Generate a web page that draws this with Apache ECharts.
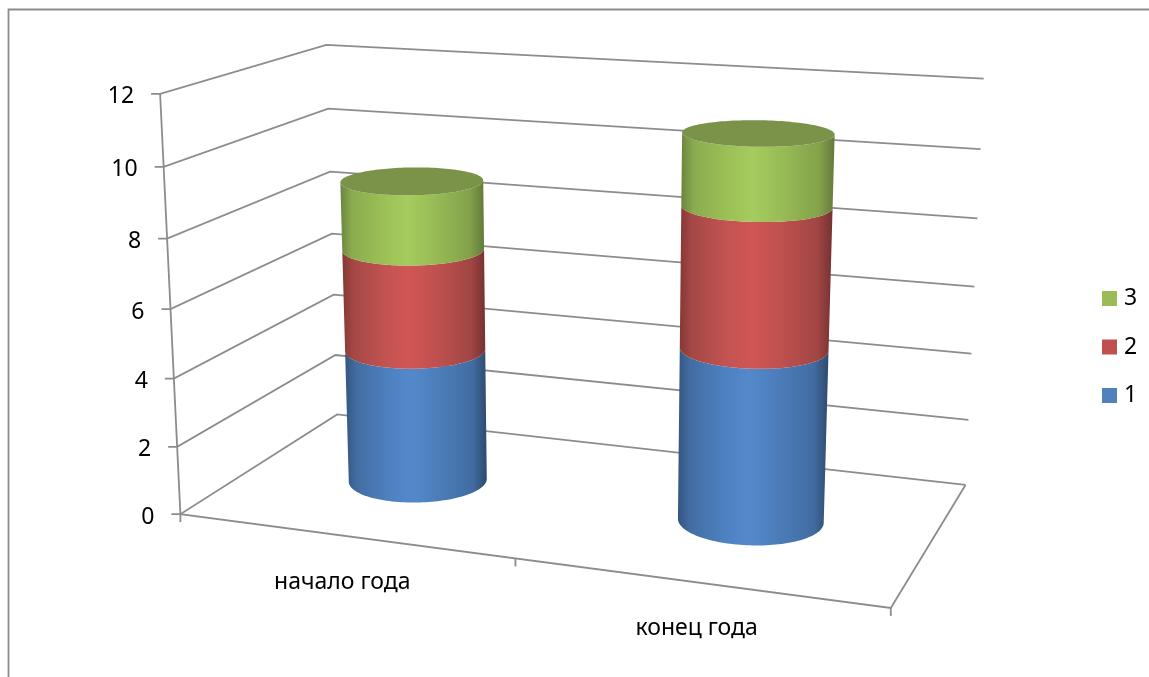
<!DOCTYPE html>
<html><head><meta charset="utf-8">
<style>html,body{margin:0;padding:0;background:#fff}#c{width:1149px;height:677px}</style>
<script src="https://cdn.jsdelivr.net/npm/echarts@6/dist/echarts.min.js"></script>
</head><body><div id="c"></div>
<script>
// ---- data ----
const categories = ['начало года', 'конец года'];
const yTicks = [0, 2, 4, 6, 8, 10, 12];
const series1 = [4, 5];
const series2 = [3, 4];
const series3 = [2, 2];
const seriesNames = ['1', '2', '3'];
// ---- style ----
const FONT = '"Noto Sans"', FS = 23;
const LINE = '#8c8c8c';
const flat = ['#4F81BD', '#C0504D', '#9BBB59'];
const shades = [
  ['#34557f', '#436da2', '#4d80bf', '#5389cb', '#4b7cb8', '#416ca2', '#2e4a6d'],
  ['#853836', '#a54846', '#c25351', '#d05653', '#bd504e', '#a14644', '#753231'],
  ['#6c843f', '#8aab4e', '#9cc056', '#a5cc5e', '#96b955', '#83a14a', '#647a3a']
];
const TOP_FILL = '#7a9349';
const R_U = 0.1, R_W = 0.2, MID_W = 0.5;
// projection calibration: normalised wall position (u, v, w) -> page position
const wallAnchors = [
  [0,1,0,160,94],[0,10/12,0,163.5,166],[0,8/12,0,167,238],[0,.5,0,170.5,309],[0,4/12,0,174,378],[0,2/12,0,177.5,447],[0,0,0,181,516],
  [0,1,1,327,45],[0,10/12,1,328,109],[0,8/12,1,330,172],[0,.5,1,332,234],[0,4/12,1,333,295],[0,2/12,1,335,355],[0,0,1,337,413],
  [1,1,1,983,78],[1,10/12,1,980,149],[1,8/12,1,978,219],[1,.5,1,975,287],[1,4/12,1,972,354],[1,2/12,1,969,420],[1,0,1,965,484],
  [1,0,0,890,608]
];
function solve(A, b) {
  const n = b.length;
  for (let i = 0; i < n; i++) {
    let p = i;
    for (let r = i + 1; r < n; r++) if (Math.abs(A[r][i]) > Math.abs(A[p][i])) p = r;
    [A[i], A[p]] = [A[p], A[i]]; [b[i], b[p]] = [b[p], b[i]];
    for (let r = i + 1; r < n; r++) {
      const f = A[r][i] / A[i][i];
      for (let c = i; c < n; c++) A[r][c] -= f * A[i][c];
      b[r] -= f * b[i];
    }
  }
  const x = new Array(n);
  for (let i = n - 1; i >= 0; i--) {
    let s = b[i];
    for (let c = i + 1; c < n; c++) s -= A[i][c] * x[c];
    x[i] = s / A[i][i];
  }
  return x;
}
const P = (function () {
  const rows = [], rhs = [];
  wallAnchors.forEach(([u, v, w, X, Y]) => {
    const x = X / 1000, y = Y / 1000;
    rows.push([u, v, w, 1, 0, 0, 0, 0, -x * u, -x * v, -x * w]); rhs.push(x);
    rows.push([0, 0, 0, 0, u, v, w, 1, -y * u, -y * v, -y * w]); rhs.push(y);
  });
  const N = 11, A = [], b = [];
  for (let i = 0; i < N; i++) {
    A.push(new Array(N).fill(0)); b.push(0);
    rows.forEach((r, k) => {
      for (let j = 0; j < N; j++) A[i][j] += r[i] * r[j];
      b[i] += r[i] * rhs[k];
    });
  }
  return solve(A, b);
})();
function project(u, v, w) {
  const d = P[8] * u + P[9] * v + P[10] * w + 1;
  return [1000 * (P[0] * u + P[1] * v + P[2] * w + P[3]) / d,
          1000 * (P[4] * u + P[5] * v + P[6] * w + P[7]) / d];
}
// from the hidden cartesian scales to normalised wall coordinates
function toWall(params, api, cat, val) {
  const c = api.coord([cat, val]), g = params.coordSys;
  return [(c[0] - g.x) / g.width, (g.y + g.height - c[1]) / g.height];
}
function ring(uc, v) {
  const pts = [];
  for (let i = 0; i < 144; i++) {
    const t = 2 * Math.PI * i / 144;
    pts.push(project(uc + R_U * Math.cos(t), v, MID_W + R_W * Math.sin(t)));
  }
  return pts;
}
// the part of a ring facing the viewer, running from its leftmost to its rightmost point
function frontArc(uc, v) {
  const pts = ring(uc, v);
  let l = 0, r = 0;
  pts.forEach((p, i) => { if (p[0] < pts[l][0]) l = i; if (p[0] > pts[r][0]) r = i; });
  const out = [];
  for (let i = l; ; i = (i + 1) % pts.length) {
    out.push(pts[i]);
    if (i === r) break;
  }
  return out;
}
function cylinderRenderer(idx) {
  return function (params, api) {
    const cat = api.value(0), start = api.value(1), end = api.value(2);
    const [uc, v0] = toWall(params, api, cat, start);
    const v1 = toWall(params, api, cat, end)[1];
    const low = frontArc(uc, v0);
    const high = frontArc(uc, v1).reverse();
    const stops = shades[idx].map((color, i) => ({offset: [0, .08, .3, .47, .68, .9, 1][i], color}));
    const children = [{
      type: 'polygon', shape: {points: low.concat(high)},
      style: {fill: new echarts.graphic.LinearGradient(0, 0, 1, 0, stops)}
    }];
    if (idx === 2) {
      children.push({
        type: 'polygon', shape: {points: ring(uc, v1)},
        style: {fill: TOP_FILL}
      });
    }
    return {type: 'group', children};
  };
}
const lineStyle = {stroke: LINE, lineWidth: 1.8, fill: null};
function wallRenderer(params, api) {
  const tick = api.value(0);
  const v = toWall(params, api, 0, tick)[1];
  const a = project(0, v, 0), b = project(0, v, 1), c = project(1, v, 1);
  return {type: 'group', children: [
    {type: 'polyline', shape: {points: [[a[0] - 9, a[1]], a, b, c]}, style: lineStyle},
    {type: 'text', style: {text: String(tick), x: a[0] - 26, y: a[1] + 3, align: 'right', verticalAlign: 'middle',
      font: FS + 'px ' + FONT, fill: '#000'}}
  ]};
}
function frameRenderer() {
  const f00 = project(0, 0, 0), f01 = project(0, 1, 0), f10 = project(1, 0, 0), b10 = project(1, 0, 1), mid = project(.5, 0, 0);
  const tick = (p) => ({type: 'line', shape: {x1: p[0], y1: p[1], x2: p[0], y2: p[1] + 8}, style: lineStyle});
  return {type: 'group', children: [
    {type: 'polyline', shape: {points: [f01, f00, f10, b10]}, style: lineStyle},
    tick(f00), tick(mid), tick(f10)
  ]};
}
function catLabelRenderer(params, api) {
  const cat = api.value(0);
  const u = toWall(params, api, cat, 0)[0];
  const p = project(u, 0, 0);
  return {type: 'text', style: {text: categories[cat], x: p[0] - 1, y: p[1] + 46.5, align: 'center', verticalAlign: 'middle',
    font: FS + 'px ' + FONT, fill: '#000'}};
}
const allValues = [series1, series2, series3];
function segments(idx) {
  return categories.map((_, c) => {
    let s = 0;
    for (let k = 0; k < idx; k++) s += allValues[k][c];
    return [c, s, s + allValues[idx][c]];
  });
}
const chart = echarts.init(document.getElementById('c'), null, {renderer: 'canvas'});
chart.setOption({
  animation: false,
  backgroundColor: '#fff',
  graphic: [{type: 'polyline', shape: {points: [[8.5, 677], [8.5, 9.5], [1149, 9.5]]},
    style: {stroke: LINE, lineWidth: 1.8, fill: null}, silent: true}],
  grid: {left: 181, top: 94, width: 709, height: 422},
  xAxis: {type: 'category', data: categories, show: false},
  yAxis: {type: 'value', min: 0, max: 12, interval: 2, show: false},
  legend: {
    orient: 'vertical', left: 1102, top: 287, padding: 0, itemWidth: 15, itemHeight: 15, itemGap: 25.5,
    data: ['3', '2', '1'].map(name => ({name, icon: 'rect'})),
    textStyle: {fontFamily: FONT, fontSize: FS, color: '#000', padding: [0, 0, 0, 2]},
    selectedMode: false
  },
  series: [
    {type: 'custom', name: 'walls', silent: true, clip: false, z: 1, data: yTicks.map(t => [t]), renderItem: wallRenderer},
    {type: 'custom', name: 'floor', silent: true, clip: false, z: 1, data: [[0]], renderItem: frameRenderer},
    {type: 'custom', name: 'labels', silent: true, clip: false, z: 1, data: categories.map((_, i) => [i]), renderItem: catLabelRenderer},
    ...seriesNames.map((name, i) => ({
      type: 'custom', name, clip: false, z: 2 + i, itemStyle: {color: flat[i]},
      encode: {x: 0, y: 2}, data: segments(i), renderItem: cylinderRenderer(i)
    }))
  ]
});
</script></body></html>
